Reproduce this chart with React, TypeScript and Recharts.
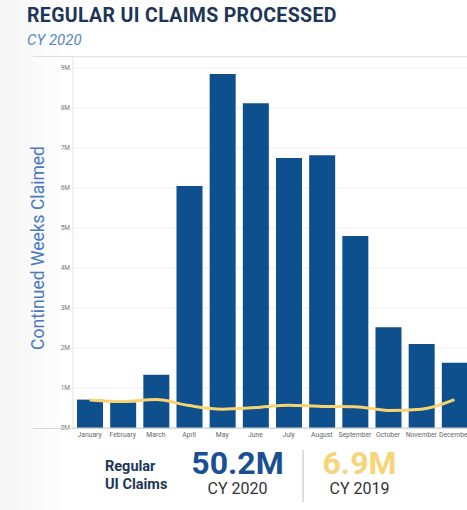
import React from "react";
import { ComposedChart, Bar, Line, XAxis, YAxis, CartesianGrid } from "recharts";

const months = ["January", "February", "March", "April", "May", "June", "July", "August", "September", "October", "November", "December"];
const claims2020 = [0.71, 0.64, 1.33, 6.05, 8.85, 8.12, 6.75, 6.82, 4.8, 2.52, 2.1, 1.63];
const claims2019 = [0.7, 0.66, 0.71, 0.56, 0.47, 0.51, 0.57, 0.54, 0.53, 0.44, 0.47, 0.71];
const yTicks = [0, 1, 2, 3, 4, 5, 6, 7, 8, 9];

const data = months.map((m, i) => ({
  month: m,
  cy2020: claims2020[i] * 1e6,
  cy2019: claims2019[i] * 1e6,
}));

const FONT = "Roboto, 'Noto Sans', sans-serif";

export default function App() {
  return (
    <div
      style={{
        position: "absolute",
        left: 0,
        top: 0,
        width: 467,
        height: 510,
        overflow: "hidden",
        background: "linear-gradient(90deg, #f5f5f5 0px, #ffffff 70px)",
        fontFamily: FONT,
      }}
    >
      <div style={{ position: "absolute", left: 27, top: 4, fontSize: 19.5, fontWeight: 700, color: "#1d3657", letterSpacing: 0.35, whiteSpace: "nowrap" }}>
        REGULAR UI CLAIMS PROCESSED
      </div>
      <div style={{ position: "absolute", left: 27, top: 31, fontSize: 15, fontStyle: "italic", color: "#5a86c2" }}>
        CY 2020
      </div>
      <div style={{ position: "absolute", left: 33, top: 56, width: 440, height: 1, background: "#dcdcdc" }} />
      <div
        style={{
          position: "absolute",
          left: 38,
          top: 248,
          transform: "translate(-50%, -50%) rotate(-90deg)",
          whiteSpace: "nowrap",
          fontSize: 17.5,
          color: "#4a79c2",
        }}
      >
        Continued Weeks Claimed
      </div>
      <div style={{ position: "absolute", left: 0, top: 0 }}>
        <ComposedChart width={475} height={445} data={data} margin={{ top: 57, right: 4, bottom: 0, left: 33 }}>
          <CartesianGrid vertical={false} stroke="#efefef" />
          <XAxis
            dataKey="month"
            interval={0}
            tickLine={false}
            tickSize={0}
            tickMargin={4}
            axisLine={{ stroke: "#d6d6d6" }}
            tick={{ fontSize: 6.8, fill: "#666" }}
            height={17}
          />
          <YAxis
            domain={[0, 9.275e6]}
            ticks={yTicks.map((t) => t * 1e6)}
            tickFormatter={(v: number) => `${v / 1e6}M`}
            tickLine={false}
            tickSize={0}
            tickMargin={3}
            axisLine={{ stroke: "#e2e2e2" }}
            tick={{ fontSize: 6.5, fill: "#777" }}
            width={40}
          />
          <Bar dataKey="cy2020" fill="#0e4f8d" barSize={26} isAnimationActive={false} />
          <Line
            dataKey="cy2019"
            type="monotone"
            stroke="#f7d46f"
            strokeWidth={3}
            dot={false}
            isAnimationActive={false}
          />
        </ComposedChart>
      </div>
      <div style={{ position: "absolute", left: 33, top: 428, width: 440, height: 1, background: "#d6d6d6" }} />
      <div style={{ position: "absolute", left: 105, top: 458, fontSize: 14.5, fontWeight: 700, color: "#1d3657", lineHeight: "18px" }}>
        Regular
        <br />
        UI Claims
      </div>
      <div style={{ position: "absolute", left: 190, top: 446, width: 95, textAlign: "center" }}>
        <div style={{ fontSize: 32, fontWeight: 700, color: "#1a4f93", lineHeight: "34px" }}>50.2M</div>
        <div style={{ fontSize: 16, color: "#333", lineHeight: "18px" }}>CY 2020</div>
      </div>
      <div style={{ position: "absolute", left: 302, top: 450, width: 2, height: 52, background: "#dddddd" }} />
      <div style={{ position: "absolute", left: 312, top: 446, width: 95, textAlign: "center" }}>
        <div style={{ fontSize: 32, fontWeight: 700, color: "#f6d57a", lineHeight: "34px" }}>6.9M</div>
        <div style={{ fontSize: 16, color: "#333", lineHeight: "18px" }}>CY 2019</div>
      </div>
    </div>
  );
}
